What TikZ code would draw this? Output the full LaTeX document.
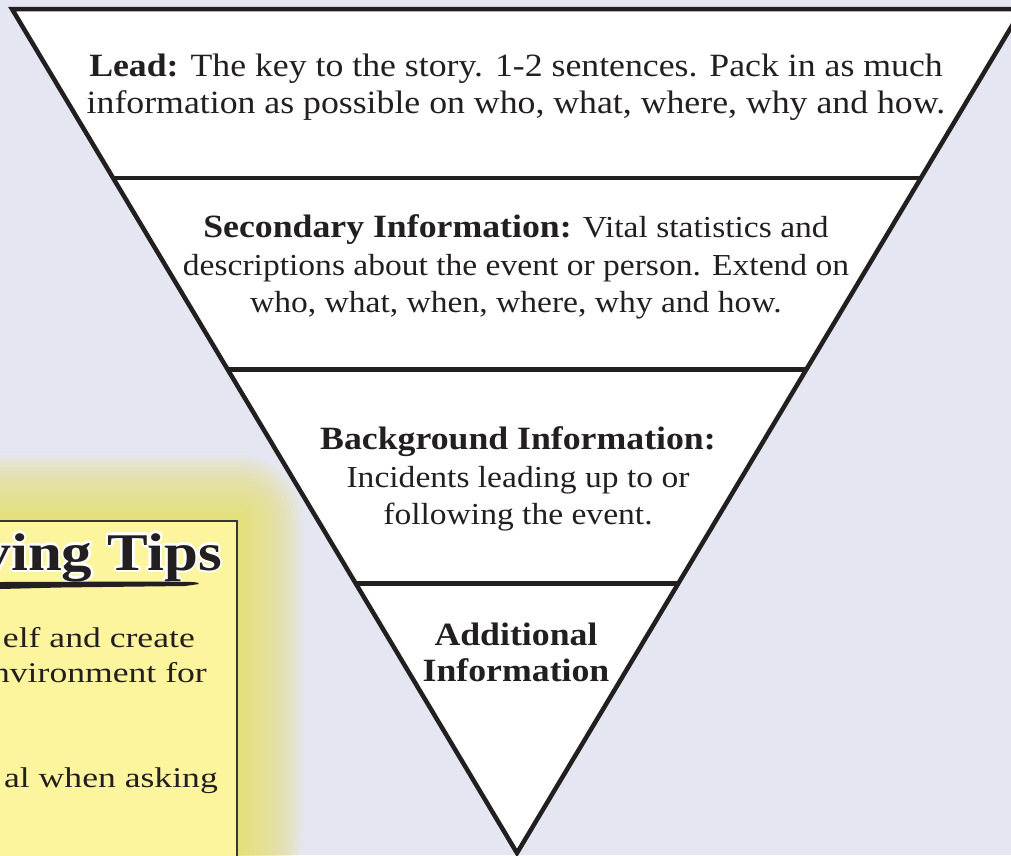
\documentclass[tikz,border=0pt]{standalone}
\usepackage{fontspec}
\setmainfont{Liberation Serif}
\newfontfamily\pyrfont[FakeStretch=1.1]{Liberation Serif}
\newfontfamily\tipfont[FakeStretch=1.25]{Liberation Serif}
\newfontfamily\titlefont[FakeStretch=1.15]{Liberation Serif}
\usetikzlibrary{calc,positioning}

\definecolor{paper}{HTML}{E4E6F1}
\definecolor{ink}{HTML}{231F20}
\definecolor{boxfill}{HTML}{FCF59E}
\definecolor{glow}{HTML}{EBE060}

\newcommand{\bandhead}[1]{{\bfseries\fontsize{32.5}{37.5}\selectfont #1}}

\begin{document}
\begin{tikzpicture}[x=1pt, y=-1pt, line join=miter,
    band/.style={align=center, inner sep=0pt, text=ink,
      font=\pyrfont\fontsize{32.5}{37.5}\selectfont},
    bandsmall/.style={band, font=\pyrfont\fontsize{30.5}{37.5}\selectfont},
    tiptext/.style={anchor=base east, inner sep=0pt, text=ink,
      font=\tipfont\fontsize{28.5}{34}\selectfont},
    tiptitle/.style={anchor=base east, inner sep=0pt,
      font=\titlefont\bfseries\fontsize{53}{58}\selectfont}]
  \useasboundingbox (0,0) rectangle (1011,855);
  \clip (0,0) rectangle (1011,855);
  \fill[paper] (0,0) rectangle (1011,855);

  % glowing tips box
  \foreach \g in {66,62,...,2}
    \fill[glow, opacity=0.085, rounded corners=\g pt] (-80,521-\g) rectangle (237+\g,900);
  \draw[ink!90, line width=2pt, fill=boxfill] (-10,521) rectangle (237,870);

  \coordinate (tipsbase) at (222,570);
  \foreach \a in {0,45,...,315}
    \node[tiptitle, text=white] at ($(tipsbase)+(\a:2.5)$) {ving Tips};
  \node[tiptitle, text=ink] (tips) at (tipsbase) {ving Tips};
  \fill[ink] (0,582) -- (150,581.5) -- (192,582) .. controls (198,582.5) .. (199,584)
    -- (185,586) -- (60,587.5) -- (0,589) -- cycle;

  \node[tiptext] (tipa) at (195,647) {elf and create};
  \node[tiptext] (tipb) at (207,682) {nvironment for};
  \node[tiptext] (tipc) at (218,787) {al when asking};

  % the inverted pyramid
  \coordinate (tl) at (12,9);
  \coordinate (tr) at (1022,9);
  \coordinate (apex) at (517,853);
  \draw[ink, line width=4.5pt, fill=white] (tl) -- (tr) -- (apex) -- cycle;
  \foreach \y/\n in {178/a,369.5/b,583.5/c} {
    \coordinate (l\n) at ($(tl)!{(\y-9)/844}!(apex)$);
    \coordinate (r\n) at ($(tr)!{(\y-9)/844}!(apex)$);
    \draw[ink, line width=4.5pt] (l\n) -- (r\n);
  }

  \node[band] (lead) at (516,87)
    {\textbf{Lead:} The key to the story. 1-2 sentences. Pack in as much\\
     information as possible on who, what, where, why and how.};
  \node[bandsmall] (second) at (516,267)
    {\bandhead{Secondary Information:} Vital statistics and\\
     descriptions about the event or person. Extend on\\
     who, what, when, where, why and how.};
  \node[bandsmall] (backgr) at (518,479)
    {\bandhead{Background Information:}\\
     Incidents leading up to or\\
     following the event.};
  \node[band, font=\pyrfont\bfseries\fontsize{32.5}{36}\selectfont] (extra) at (516,652)
    {Additional\\Information};
\end{tikzpicture}
\end{document}
